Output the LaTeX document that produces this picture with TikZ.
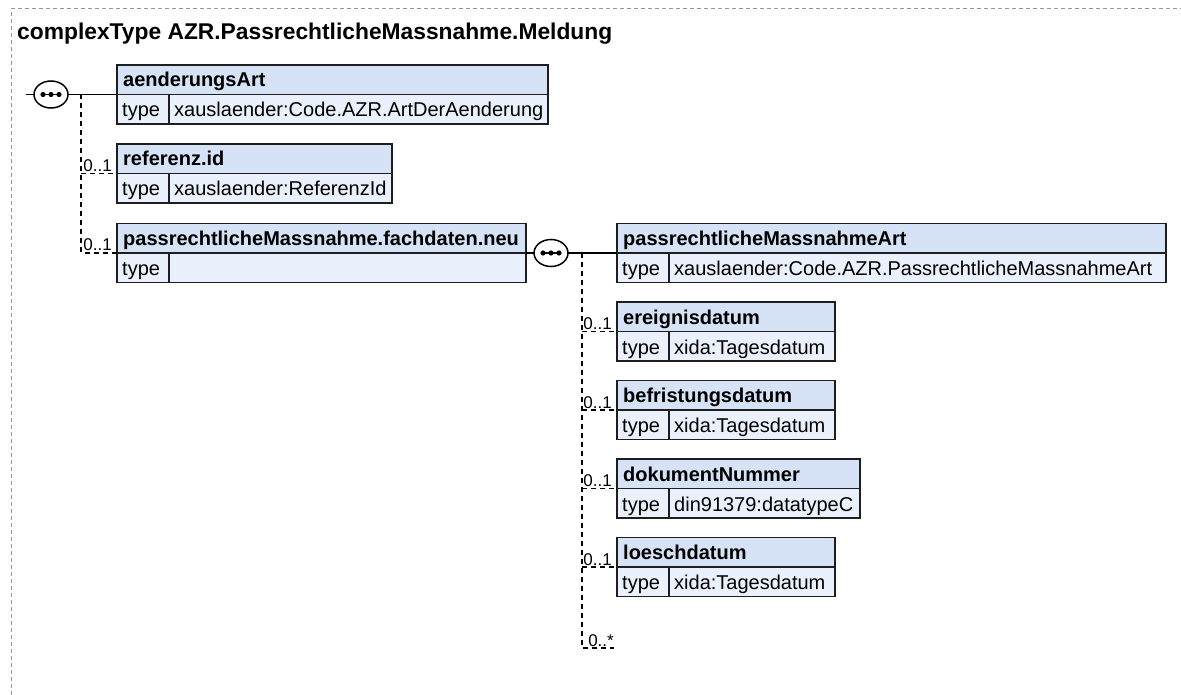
\documentclass[tikz,border=0pt]{standalone}
\usepackage{fontspec}
\setmainfont{Liberation Sans}
\usetikzlibrary{shapes.geometric,calc}
\definecolor{hdrfill}{RGB}{214,227,247}
\definecolor{typefill}{RGB}{235,241,252}
\definecolor{bxcol}{RGB}{30,30,30}
\definecolor{framecol}{RGB}{150,150,150}
\tikzset{
  hdrbox/.style={draw=bxcol, fill=hdrfill, line width=1.4pt, anchor=north west,
                 minimum height=29.5pt, inner sep=0pt, outer sep=0pt},
  typebox/.style={draw=bxcol, fill=typefill, line width=1.4pt, anchor=north west,
                 minimum height=29.5pt, inner sep=0pt, outer sep=0pt},
  bxline/.style={draw=bxcol, line width=1.4pt},
  hdrtext/.style={anchor=base west, inner sep=0pt, font=\fontsize{20}{24}\selectfont\bfseries},
  typetext/.style={anchor=base west, inner sep=0pt, font=\fontsize{20}{24}\selectfont},
  cardtext/.style={anchor=base east, inner sep=0pt, font=\fontsize{17}{20}\selectfont},
  conn/.style={draw=black, line width=1.3pt},
  dconn/.style={draw=black, line width=1.2pt, dash pattern=on 5pt off 4pt},
  seqnode/.style={ellipse, draw=black, fill=white, line width=1.5pt,
                  minimum width=34pt, minimum height=27pt, inner sep=0pt, outer sep=0pt},
  framestyle/.style={draw=framecol, line width=1pt, dash pattern=on 4pt off 3pt},
  titletext/.style={anchor=base west, inner sep=0pt, font=\fontsize{22.8}{27}\selectfont\bfseries}
}
% name, left, top, right, header text, type text
\newcommand\xsdbox[6]{%
  \node[hdrbox, minimum width={(#4-(#2))*1pt}] (#1) at (#2,#3) {};
  \node[typebox, minimum width={(#4-(#2))*1pt}] (#1-t) at (#2,#3+29.5) {};
  \draw[bxline] (#2+52,#3+29.5) -- (#2+52,#3+59);
  \node[hdrtext] (#1-n) at (#2+6,#3+22) {#5};
  \node[typetext] (#1-k) at (#2+5,#3+52) {type};
  \node[typetext] (#1-v) at (#2+57,#3+52) {#6};
}
\newcommand\seqdots[1]{%
  \draw[line width=1.5pt] ($(#1.center)+(-9,0)$) -- ($(#1.center)+(9,0)$);
  \fill ($(#1.center)+(-8,0)$) circle (2.6pt);
  \fill (#1.center) circle (2.6pt);
  \fill ($(#1.center)+(8,0)$) circle (2.6pt);
}
\begin{document}
\begin{tikzpicture}[x=1pt,y=-1pt]
\useasboundingbox (0,0) rectangle (1181,695);
% frame
\draw[framestyle] (11,695) -- (11,9) -- (1181,9);
\node[titletext] (title) at (17,40) {complexType AZR.PassrechtlicheMassnahme.Meldung};

% left column boxes
\xsdbox{a}{117}{65}{548}{aenderungsArt}{xauslaender:Code.AZR.ArtDerAenderung}
\xsdbox{r}{117}{144}{392}{referenz.id}{xauslaender:ReferenzId}
\xsdbox{p}{117}{223.5}{526}{passrechtlicheMassnahme.fachdaten.neu}{}

% right column boxes
\xsdbox{pa}{617}{223.5}{1166}{passrechtlicheMassnahmeArt}{xauslaender:Code.AZR.PassrechtlicheMassnahmeArt}
\xsdbox{e}{617}{302}{835}{ereignisdatum}{xida:Tagesdatum}
\xsdbox{b}{617}{380.5}{835}{befristungsdatum}{xida:Tagesdatum}
\xsdbox{d}{617}{459}{860}{dokumentNummer}{din91379:datatypeC}
\xsdbox{l}{617}{537.5}{835}{loeschdatum}{xida:Tagesdatum}

% sequence 1
\node[seqnode] (s1) at (51,94.5) {};
\seqdots{s1}
\coordinate (in1) at (26,94.5);
\draw[conn] (in1) -- (s1.west);
\draw[conn] (s1.east) -- (a.south west);
\coordinate (v1) at (81,94.5);
\draw[dconn] (v1) |- (p.south west);
\draw[dconn] (v1 |- r.south west) -- (r.south west);
\node[cardtext] (cr) at ($(r.south west)+(-5,-2)$) {0..1};
\node[cardtext] (cp) at ($(p.south west)+(-5,-2)$) {0..1};

% sequence 2
\node[seqnode] (s2) at (551,253) {};
\seqdots{s2}
\draw[conn] (p-n.base -| p.east) ++(0,0) coordinate (pr) ;
\draw[conn] (p.south east) -- (s2.west);
\draw[conn] (s2.east) -- (pa.south west);
\coordinate (v2) at (582,253);
\coordinate (endany) at (614,648);
\draw[dconn] (v2) |- (endany);
\draw[dconn] (v2 |- e.south west) -- (e.south west);
\draw[dconn] (v2 |- b.south west) -- (b.south west);
\draw[dconn] (v2 |- d.south west) -- (d.south west);
\draw[dconn] (v2 |- l.south west) -- (l.south west);
\node[cardtext] (ce) at ($(e.south west)+(-5,-2)$) {0..1};
\node[cardtext] (cb) at ($(b.south west)+(-5,-2)$) {0..1};
\node[cardtext] (cd) at ($(d.south west)+(-5,-2)$) {0..1};
\node[cardtext] (cl) at ($(l.south west)+(-5,-2)$) {0..1};
\node[cardtext] (cany) at ($(endany)+(0,-2)$) {0..*};
\end{tikzpicture}
\end{document}
